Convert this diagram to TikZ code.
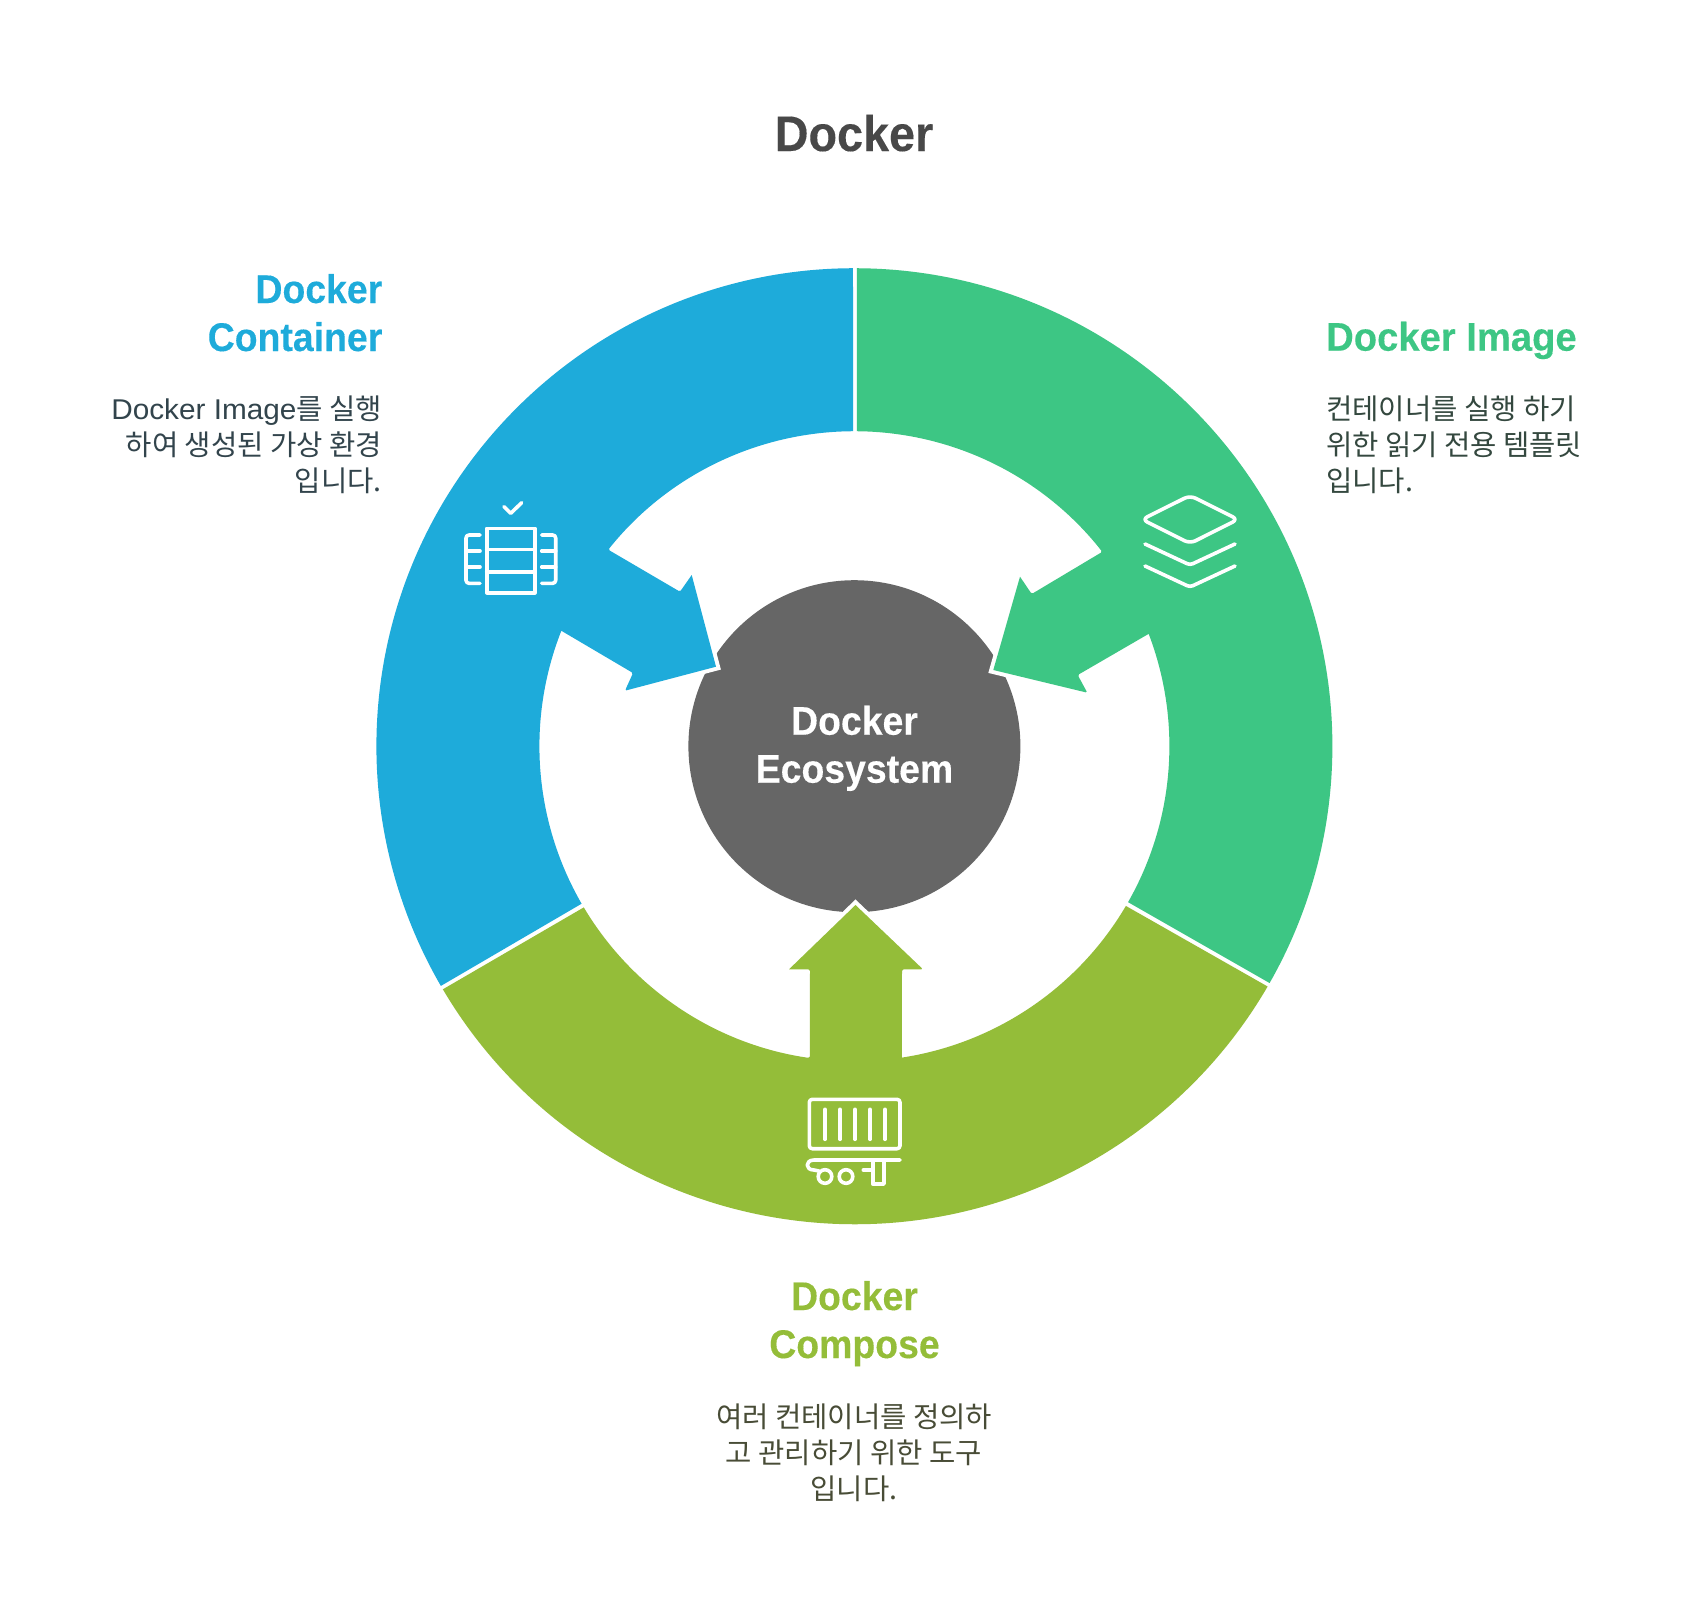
\documentclass[tikz,border=0pt]{standalone}
\usepackage{fontspec}
\usetikzlibrary{calc}
\setmainfont{Liberation Sans}
\newfontfamily\headfont[FakeStretch=.935,FakeBold=.25]{Liberation Sans}
\newfontfamily\headwide[FakeStretch=.955,FakeBold=.25]{Liberation Sans}
\newfontfamily\latinbody[FakeStretch=1.04]{Liberation Sans}
\newfontfamily\kr{Noto Sans CJK KR}
\definecolor{cblue}{HTML}{1EABDA}
\definecolor{cgreen}{HTML}{3DC684}
\definecolor{colive}{HTML}{94BD39}
\definecolor{cgray}{HTML}{666666}
\definecolor{ctitle}{HTML}{484848}
\definecolor{tblue}{HTML}{32444C}
\definecolor{tgreen}{HTML}{34483F}
\definecolor{tolive}{HTML}{484C36}
\tikzset{
  halo/.style={draw=white,line width=8pt,miter limit=10},
  icon/.style={draw=white,line width=3.6pt,line cap=round,line join=round},
  head/.style={inner sep=0pt,font=\headfont\bfseries\fontsize{40}{48}\selectfont},
  body/.style={inner sep=0pt,font=\kr\fontsize{28.6}{36}\selectfont},
}
\def\bluepath{
  ($(c)+(90.17:478)$) arc[start angle=90.17,end angle=210.1,radius=478]
  -- ($(c)+(210:315)$) arc[start angle=210,end angle=158.5,radius=315]
  [rounded corners=1.5pt] -- (633,-673) -- (625,-690.7) [sharp corners]
  -- (716,-666.7) -- (691.7,-575) [rounded corners=1.5pt] -- (680,-591.7)
  -- ($(c)+(141.4:315)$) [sharp corners] arc[start angle=141.4,end angle=90.25,radius=315] -- cycle}
\def\greenpath{
  ($(c)+(89.69:478)$) arc[start angle=89.69,end angle=-29.7,radius=478]
  -- ($(c)+(-29.68:315)$) arc[start angle=-29.68,end angle=20.9,radius=315]
  [rounded corners=1.5pt] -- (1077.7,-675) -- (1087.3,-692.7) [sharp corners]
  -- (993.3,-670) -- (1020,-576.7) [rounded corners=1.5pt] -- (1031.7,-594)
  -- ($(c)+(38.1:315)$) [sharp corners] arc[start angle=38.1,end angle=89.53,radius=315] -- cycle}
\def\olivepath{
  ($(c)+(210.57:478)$) arc[start angle=210.57,end angle=329.82,radius=478]
  -- ($(c)+(329.53:315)$) arc[start angle=329.53,end angle=278.65,radius=315]
  [rounded corners=1.5pt] -- (902,-969.3) -- (923,-969.3) [sharp corners]
  -- (855.5,-905) -- (789,-969.3) [rounded corners=1.5pt] -- (810,-969.3)
  -- ($(c)+(261.86:315)$) [sharp corners] arc[start angle=261.86,end angle=210.78,radius=315] -- cycle}
\begin{document}
\begin{tikzpicture}[x=1pt,y=1pt]
\useasboundingbox (0,0) rectangle (1708,-1612);
\coordinate (c) at (854.4,-746.2);
\fill[cgray] (c) circle[radius=166];
\path[halo] \bluepath;
\path[halo] \greenpath;
\path[halo] \olivepath;
\fill[cblue] \bluepath;
\fill[cgreen] \greenpath;
\fill[colive] \olivepath;
% title and centre
\node[inner sep=0pt,anchor=base,text=ctitle,font=\headfont\bfseries\fontsize{50}{60}\selectfont] (title) at (854,-151) {Docker};
\node[head,anchor=base,text=white,align=center] (centre) at (854.5,-782.7) {Docker\\Ecosystem};
% headings
\node[head,anchor=base east,text=cblue,align=right] (hblue) at (382.5,-351) {Docker\\Container};
\node[head,font=\headwide\bfseries\fontsize{40}{48}\selectfont,anchor=base west,text=cgreen] (hgreen) at (1326,-350.7) {Docker Image};
\node[head,anchor=base,text=colive,align=center] (holive) at (854.5,-1358) {Docker\\Compose};
% bodies
\node[body,anchor=base east,text=tblue,align=right] (bblue) at (382,-491) {{\latinbody Docker Image}를 실행\\하여 생성된 가상 환경\\입니다.};
\node[body,anchor=base west,text=tgreen,align=left] (bgreen) at (1326,-491) {컨테이너를 실행 하기\\위한 읽기 전용 템플릿\\입니다.};
\node[body,anchor=base,text=tolive,align=center] (bolive) at (854,-1499) {여러 컨테이너를 정의하\\고 관리하기 위한 도구\\입니다.};
% container icon
\draw[icon] (486.7,-528.3) rectangle (535,-592.7);
\draw[icon] (486.7,-549.3) -- (535,-549.3) (486.7,-571.7) -- (535,-571.7);
\draw[icon,rounded corners=3pt] (480,-535) -- (466,-535) -- (466,-583.3) -- (480,-583.3);
\draw[icon] (466,-551) -- (480,-551) (466,-567) -- (480,-567);
\draw[icon,rounded corners=3pt] (541.7,-535) -- (555.7,-535) -- (555.7,-583.3) -- (541.7,-583.3);
\draw[icon] (541.7,-551) -- (555.7,-551) (541.7,-567) -- (555.7,-567);
\draw[icon] (504,-506.7) -- (510.7,-513.3) -- (521.7,-502.7);
% layers icon
\draw[icon,rounded corners=6pt] (1190,-495.5) -- (1238,-519.4) -- (1190,-543.5) -- (1142,-519.4) -- cycle;
\draw[icon,rounded corners=3pt] (1145,-544) -- (1190,-565) -- (1235,-544);
\draw[icon,rounded corners=3pt] (1145,-566) -- (1190,-587) -- (1235,-566);
% compose icon
\draw[icon,rounded corners=3pt] (809.3,-1099.3) rectangle (900,-1148.7);
\foreach \bx in {825,840,855,870,885} \draw[icon] (\bx,-1109.3) -- (\bx,-1139.3);
\draw[icon] (900,-1160) -- (814,-1160) .. controls (805,-1160) and (805,-1170) .. (814,-1170) -- (819,-1171);
\draw[icon] (825,-1176.5) circle[radius=6.8];
\draw[icon] (846,-1176.5) circle[radius=6.8];
\draw[icon] (863.3,-1170) -- (872.7,-1170);
\draw[icon] (872.7,-1160) -- (872.7,-1184) -- (884,-1184) -- (884,-1160);
\end{tikzpicture}
\end{document}
